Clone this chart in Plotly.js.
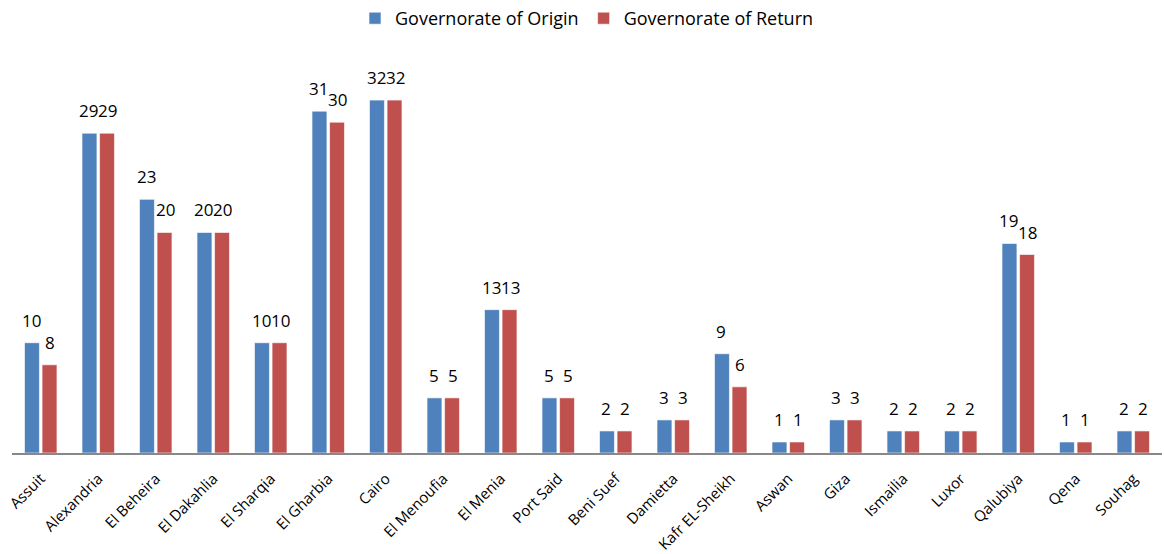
<!DOCTYPE html>
<html><head><meta charset="utf-8">
<script src="https://cdn.plot.ly/plotly-3.0.1.min.js"></script>
<style>html,body{margin:0;padding:0;background:#fff}#chart{width:1164px;height:554px}</style>
</head><body><div id="chart"></div>
<script>
const categories = ["Assuit","Alexandria","El Beheira","El Dakahlia","El Sharqia","El Gharbia","Cairo","El Menoufia","El Menia","Port Said","Beni Suef","Damietta","Kafr EL-Sheikh","Aswan","Giza","Ismailia","Luxor","Qalubiya","Qena","Souhag"];
const origin = [10,29,23,20,10,31,32,5,13,5,2,3,9,1,3,2,2,19,1,2];
const ret = [8,29,20,20,10,30,32,5,13,5,2,3,6,1,3,2,2,18,1,2];
const seriesNames = ["Governorate of Origin","Governorate of Return"];

const font = "Open Sans, Noto Sans, sans-serif";
function mk(name, vals, color){
  return {type:"bar", name:name, x:categories, y:vals,
    marker:{color:color, line:{color:"rgba(255,255,255,0.6)", width:1}}, hoverinfo:"x+y"};
}
const data = [mk(seriesNames[0], origin, "#4F81BD"), mk(seriesNames[1], ret, "#C0504D")];
const annotations = [];
[[origin,-9.5],[ret,9.5]].forEach(([vals,dx])=>{
  vals.forEach((v,i)=>annotations.push({x:categories[i], y:v, xref:"x", yref:"y",
    text:String(v), showarrow:false, xshift:dx, yshift:9, yanchor:"bottom",
    font:{family:font, size:17, color:"#000"}}));
});
const layout = {
  width:1164, height:554,
  margin:{l:12, r:2, t:56, b:101},
  paper_bgcolor:"#fff", plot_bgcolor:"#fff",
  barmode:"group", bargap:0.39, bargroupgap:0.15,
  showlegend:true,
  legend:{orientation:"h", x:0.5, xanchor:"center", y:1.0, yref:"container", yanchor:"top",
    font:{family:font, size:18, color:"#000"}, itemwidth:30},
  xaxis:{tickangle:-45, tickfont:{family:font, size:15, color:"#000"}, showline:true,
    linecolor:"#888", linewidth:2, ticks:"outside", ticklen:9, tickcolor:"rgba(0,0,0,0)", showgrid:false, automargin:false},
  yaxis:{range:[0,36], visible:false, showgrid:false, zeroline:false},
  annotations:annotations,
  font:{family:font}
};
Plotly.newPlot("chart", data, layout, {displayModeBar:false, staticPlot:true});
</script></body></html>
